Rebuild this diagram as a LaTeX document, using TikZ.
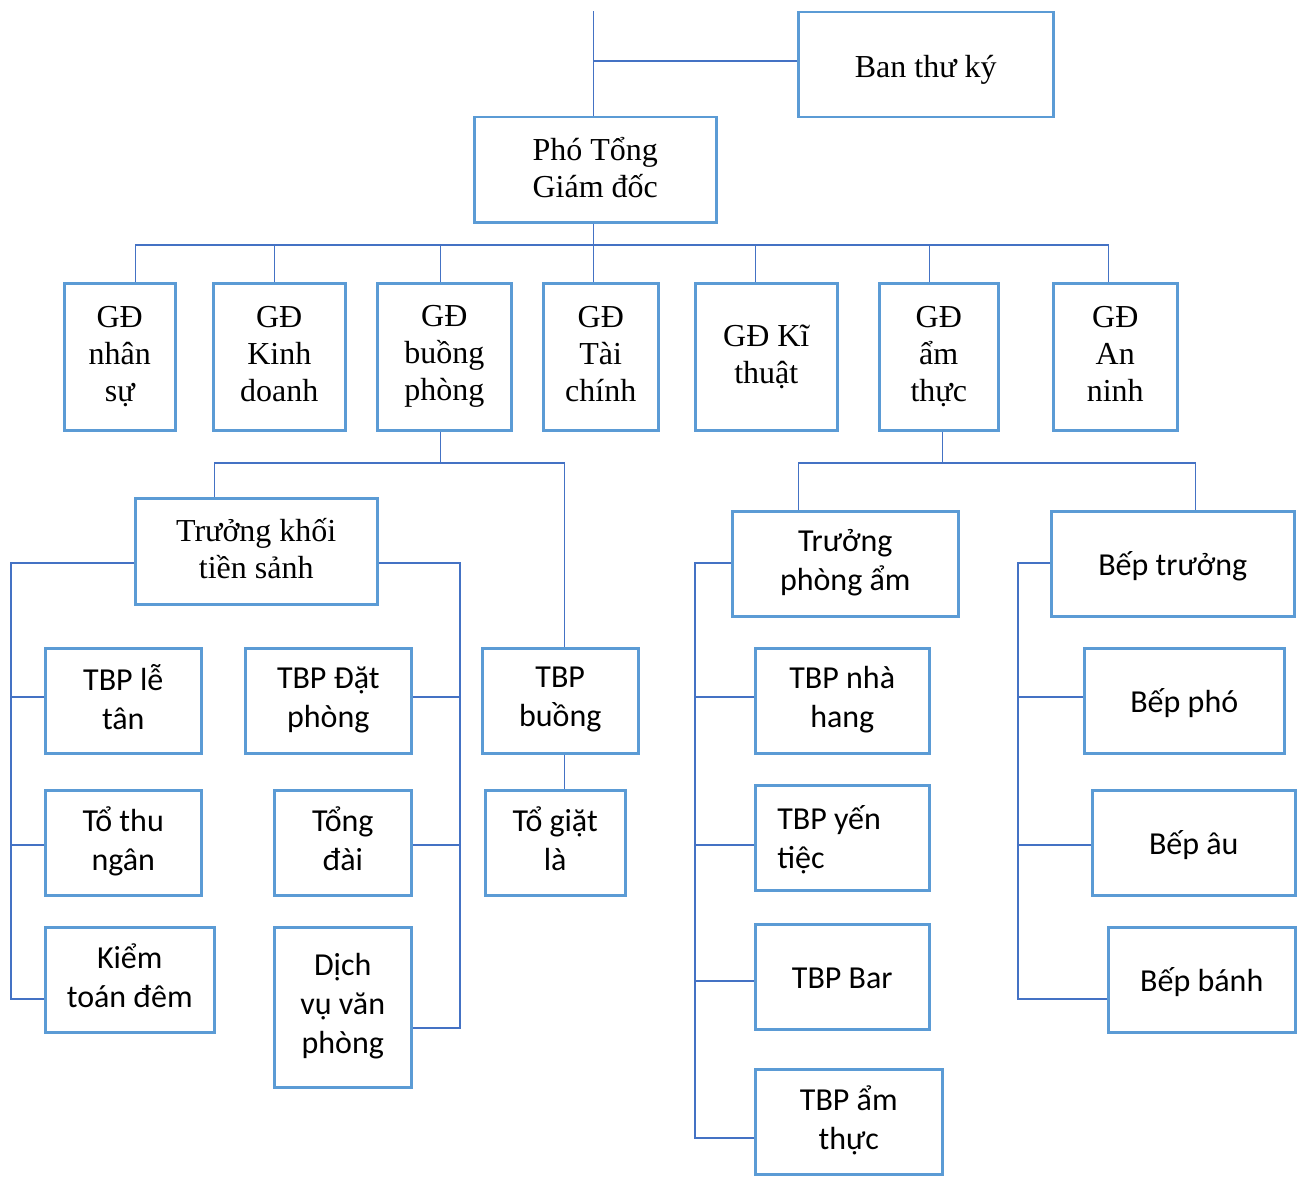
\documentclass[tikz,border=0pt]{standalone}
\usepackage{fontspec}
\setmainfont{Liberation Serif}
\newfontfamily\calfont{Carlito}
\definecolor{boxblue}{HTML}{5B9BD5}
\definecolor{lineblue}{HTML}{4472C4}
\newcommand\obox[7]{\node[box,#2,minimum width={#5-#3},minimum height={#6-#4}] (#1) at (#3,#4) {#7};}
\newcommand\serifstrut{\rule[-5pt]{0pt}{37pt}}
\newcommand\sansstrut{\rule[-8pt]{0pt}{39pt}}
\begin{document}
\begin{tikzpicture}[x=1pt,y=-1pt,
  box/.style={draw=boxblue, line width=2.5pt, inner sep=0pt, align=center, anchor=north west, fill=white},
  serif/.style={font=\fontsize{32}{37}\selectfont,
    execute at begin node=\serifstrut, execute at end node=\serifstrut},
  sans/.style={font=\calfont\fontsize{32}{39}\selectfont,
    execute at begin node=\sansstrut, execute at end node=\sansstrut},
  conn/.style={draw=lineblue, line width=1.3pt}]
\useasboundingbox[fill=white] (0,0) rectangle (1303,1180);

% top
\obox{ban}{serif}{797}{11}{1052}{116}{Ban thư ký}
\obox{ptgd}{serif}{473}{116}{715}{221}{Phó Tổng\\Giám đốc}

% level 2
\obox{g1}{serif}{63}{282}{174}{429}{GĐ\\nhân\\sự}
\obox{g2}{serif}{212}{282}{344}{429}{GĐ\\Kinh\\doanh}
\obox{g3}{serif}{376}{282}{510}{429}{GĐ\\buồng\\phòng}
\obox{g4}{serif}{542}{282}{657}{429}{GĐ\\Tài\\chính}
\obox{g5}{serif}{694}{282}{836}{429}{GĐ Kĩ\\thuật}
\obox{g6}{serif}{878}{282}{997}{429}{GĐ\\ẩm\\thực}
\obox{g7}{serif}{1052}{282}{1176}{429}{GĐ\\An\\ninh}

% buong phong branch
\obox{tkts}{serif}{134}{497}{376}{603}{Trưởng khối\\tiền sảnh}
\obox{tbplt}{sans}{44}{647}{200}{752}{TBP lễ\\tân}
\obox{ttn}{sans}{44}{789}{200}{894}{Tổ thu\\ngân}
\obox{ktd}{sans}{44}{926}{213}{1031}{Kiểm\\toán đêm}
\obox{tbpdp}{sans}{244}{647}{410}{752}{TBP Đặt\\phòng}
\obox{tdai}{sans}{273}{789}{410}{894}{Tổng\\đài}
\obox{dvvp}{sans}{273}{926}{410}{1086}{Dịch\\vụ văn\\phòng}
\obox{tbpb}{sans}{481}{647}{637}{752}{TBP\\buồng}
\obox{tgl}{sans}{484}{789}{624}{894}{Tổ giặt\\là}

% am thuc branch
\obox{tpa}{sans}{731}{510}{957}{615}{Trưởng\\phòng ẩm}
\obox{tbpnh}{sans}{754}{647}{928}{752}{TBP nhà\\hang}
\node[box,sans,align=flush left,text width=130pt,inner xsep=22pt,minimum width=174,minimum height=105] (tbpyt) at (754,784) {TBP yến\\tiệc};
\obox{tbpbar}{sans}{754}{923}{928}{1028}{TBP Bar}
\obox{tbpat}{sans}{754}{1068}{941}{1173}{TBP ẩm\\thực}
\obox{bt}{sans}{1050}{510}{1293}{615}{Bếp trưởng}
\obox{bp}{sans}{1083}{647}{1283}{752}{Bếp phó}
\obox{ba}{sans}{1091}{789}{1294}{894}{Bếp âu}
\obox{bb}{sans}{1107}{926}{1294}{1031}{Bếp bánh}

% connectors top
\draw[conn] ([xshift=-2pt]ptgd.north) -- ([xshift=-2pt]ptgd.north |- 0,11);
\draw[conn] (ban.west |- 0,61) -- ([xshift=-2pt]ptgd.north |- 0,61);
\coordinate (bus) at (0,245);
\draw[conn] ([xshift=-2pt]ptgd.south) -- ([xshift=-2pt]ptgd.south |- bus);
\draw[conn] ([xshift=15.5pt]g1.north) -- ([xshift=15.5pt]g1.north |- bus) -- ([xshift=-7pt]g7.north |- bus) -- ([xshift=-7pt]g7.north);
\draw[conn] ([xshift=-5pt]g2.north) -- ([xshift=-5pt]g2.north |- bus);
\draw[conn] ([xshift=-4pt]g3.north) -- ([xshift=-4pt]g3.north |- bus);
\draw[conn] ([xshift=-7.5pt]g4.north) -- ([xshift=-7.5pt]g4.north |- bus);
\draw[conn] ([xshift=-11pt]g5.north) -- ([xshift=-11pt]g5.north |- bus);
\draw[conn] ([xshift=-9.5pt]g6.north) -- ([xshift=-9.5pt]g6.north |- bus);

% buong phong
\coordinate (bus2) at (0,463);
\draw[conn] ([xshift=-4pt]g3.south) -- ([xshift=-4pt]g3.south |- bus2);
\draw[conn] ([xshift=-42pt]tkts.north) -- ([xshift=-42pt]tkts.north |- bus2) -- ([xshift=4pt]tbpb.north |- bus2) -- ([xshift=4pt]tbpb.north);
\draw[conn] ([xshift=4pt]tbpb.south) -- ([xshift=4pt]tbpb.south |- tgl.north);
\draw[conn] (tkts.west |- 0,563) -- (11,563) -- (11,999) -- (ktd.west |- 0,999);
\draw[conn] (11,697) -- (tbplt.west |- 0,697);
\draw[conn] (11,845) -- (ttn.west |- 0,845);
\draw[conn] (tkts.east |- 0,563) -- (460,563) -- (460,1028) -- (dvvp.east |- 0,1028);
\draw[conn] (460,697) -- (tbpdp.east |- 0,697);
\draw[conn] (460,845) -- (tdai.east |- 0,845);

% am thuc
\draw[conn] ([xshift=3.5pt]g6.south) -- ([xshift=3.5pt]g6.south |- bus2);
\draw[conn] ([xshift=-47pt]tpa.north) -- ([xshift=-47pt]tpa.north |- bus2) -- ([xshift=22.5pt]bt.north |- bus2) -- ([xshift=22.5pt]bt.north);
\draw[conn] (tpa.west |- 0,563) -- (695,563) -- (695,1138) -- (tbpat.west |- 0,1138);
\draw[conn] (695,697) -- (tbpnh.west |- 0,697);
\draw[conn] (695,845) -- (tbpyt.west |- 0,845);
\draw[conn] (695,981) -- (tbpbar.west |- 0,981);
\draw[conn] (bt.west |- 0,563) -- (1018,563) -- (1018,999) -- (bb.west |- 0,999);
\draw[conn] (1018,697) -- (bp.west |- 0,697);
\draw[conn] (1018,845) -- (ba.west |- 0,845);
\end{tikzpicture}
\end{document}
